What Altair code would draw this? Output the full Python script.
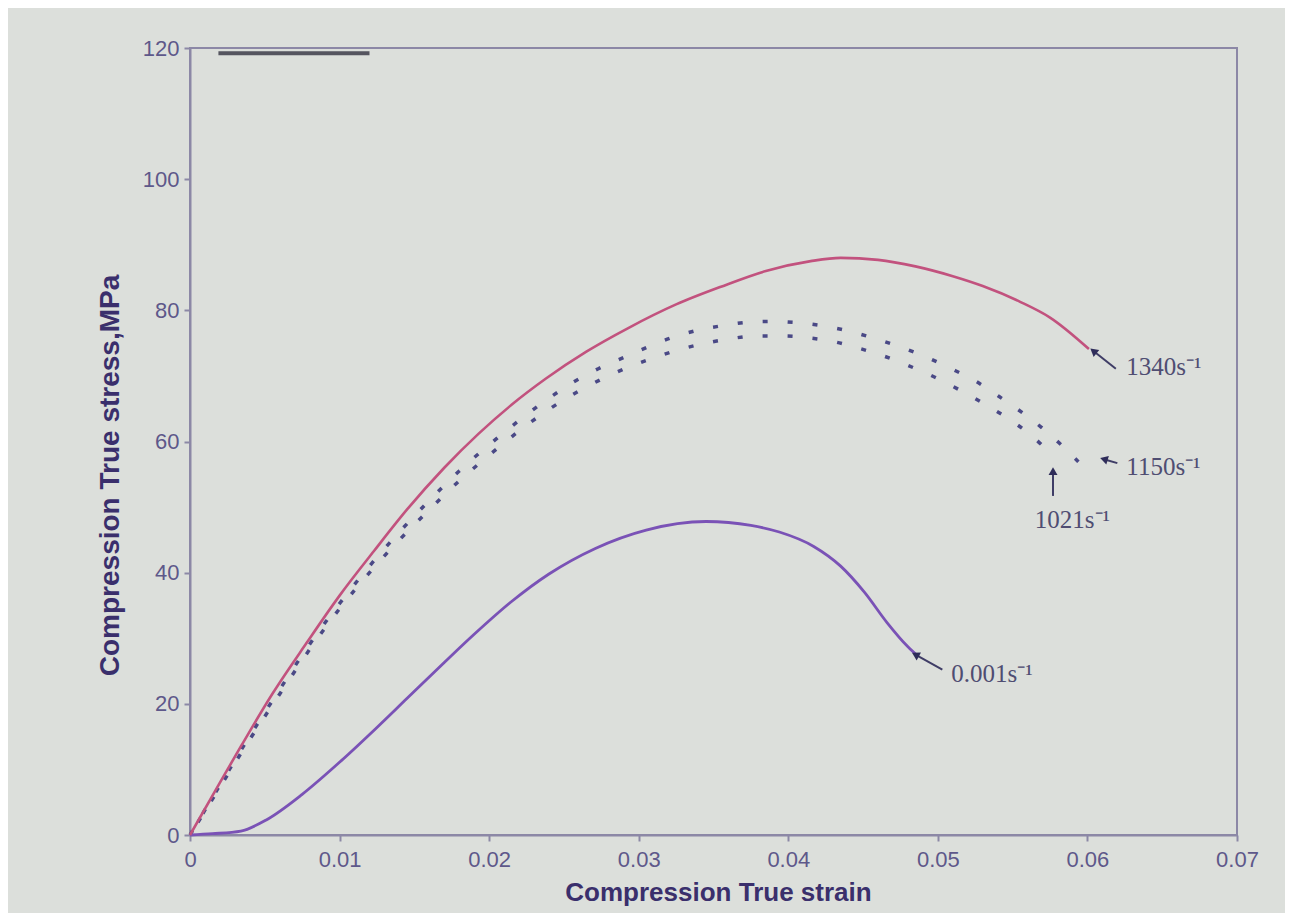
import altair as alt
import pandas as pd

# ---------------- data ----------------
strain_1340 = [0, 0.002, 0.0034, 0.0055, 0.0078, 0.010, 0.0123, 0.0145, 0.017, 0.0193, 0.0215,
               0.0238, 0.0265, 0.0293, 0.0325, 0.0355, 0.0385, 0.0415, 0.0435, 0.046, 0.0485,
               0.051, 0.053, 0.0555, 0.0575, 0.0601]
stress_1340 = [0, 8, 13.5, 21.5, 29.3, 36.5, 43.3, 49.6, 56.0, 61.2, 65.6,
               69.6, 73.7, 77.3, 80.9, 83.6, 86.0, 87.5, 88, 87.7, 86.7,
               85.2, 83.7, 81.3, 78.9, 74.1]

strain_1150 = [0, 0.002, 0.004, 0.006, 0.008, 0.010, 0.012, 0.014, 0.016, 0.018, 0.020, 0.022,
               0.024, 0.0256, 0.0273, 0.0291, 0.0307, 0.0323, 0.034, 0.0357, 0.0374, 0.039,
               0.0407, 0.0424, 0.0441, 0.0458, 0.0475, 0.0492, 0.0509, 0.0526, 0.054, 0.0554,
               0.0569, 0.0581, 0.0594]
stress_1150 = [0, 7.6, 15.1, 22.2, 29.1, 35.3, 41.0, 46.2, 51.0, 55.5, 59.5, 63.2,
               66.6, 69.0, 71.1, 72.9, 74.5, 75.9, 77.0, 77.7, 78.2, 78.3,
               78.1, 77.6, 76.8, 75.7, 74.4, 72.9, 71.1, 69.1, 67.0, 64.8,
               62.2, 59.8, 56.9]

strain_1021 = [0, 0.002, 0.004, 0.006, 0.008, 0.010, 0.012, 0.014, 0.016, 0.018, 0.020, 0.022,
               0.0242, 0.026, 0.0277, 0.0294, 0.0312, 0.0327, 0.0347, 0.0362, 0.0379, 0.0397,
               0.0414, 0.0431, 0.0446, 0.0463, 0.048, 0.0498, 0.0515, 0.0532, 0.0547, 0.0561,
               0.0574]
stress_1021 = [0, 7.3, 14.6, 21.5, 28.3, 34.5, 40.0, 45.0, 49.6, 54.0, 57.9, 61.6,
               65.2, 67.7, 69.7, 71.4, 72.9, 74.0, 75.1, 75.7, 76.1, 76.1,
               75.8, 75.2, 74.3, 73.1, 71.6, 69.8, 67.8, 65.6, 63.5, 61.2,
               58.5]

strain_0001 = [0, 0.0015, 0.0034, 0.0051, 0.0075, 0.0101, 0.0125, 0.0145, 0.017, 0.019, 0.0215,
               0.024, 0.0271, 0.0305, 0.0345, 0.0375, 0.0394, 0.0417, 0.0435, 0.0451, 0.0466,
               0.048, 0.0487]
stress_0001 = [0, 0.2, 0.6, 2.3, 6.2, 11.3, 16.4, 20.8, 26.3, 30.6, 35.6,
               39.8, 43.7, 46.5, 47.8, 47.2, 46.2, 44, 41, 37, 32.4,
               28.7, 27.2]

# annotation labels and arrows (head -> tail, in data units)
ann_labels = ["1340s⁻¹", "1150s⁻¹", "1021s⁻¹", "0.001s⁻¹"]
ann_head_x = [0.0604, 0.0611, 0.0577, 0.0485]
ann_head_y = [73.8, 57.3, 55.5, 27.5]
ann_tail_x = [0.0619, 0.0620, 0.0577, 0.0503]
ann_tail_y = [71.1, 56.7, 51.7, 25.2]
ann_angle = [309, 287, 0, 299]
ann_text_x = [0.0626, 0.0626, 0.0590, 0.0509]
ann_text_y = [71.3, 56.1, 48.0, 24.6]

# short dark line at the top left of the frame
top_line_x = [0.0019, 0.0120]
top_line_y = [119.2, 119.2]

x_ticks = [0, 0.01, 0.02, 0.03, 0.04, 0.05, 0.06, 0.07]
y_ticks = [0, 20, 40, 60, 80, 100, 120]

# ---------------- tables ----------------
def series_df(name, xs, ys):
    return pd.DataFrame({"series": name, "strain": xs, "stress": ys, "order": range(len(xs))})

df_1340 = series_df("1340", strain_1340, stress_1340)
df_1150 = series_df("1150", strain_1150, stress_1150)
df_1021 = series_df("1021", strain_1021, stress_1021)
df_0001 = series_df("0.001", strain_0001, stress_0001)

ann = pd.DataFrame({"label": ann_labels, "strain": ann_head_x, "stress": ann_head_y,
                    "strain2": ann_tail_x, "stress2": ann_tail_y, "ang": ann_angle,
                    "tx": ann_text_x, "ty": ann_text_y})
top_df = pd.DataFrame({"strain": [top_line_x[0]], "strain2": [top_line_x[1]], "stress": [top_line_y[0]]})

# ---------------- styling ----------------
BG = "#dcdfdb"
FRAME = "#8c88a6"
LABEL_C = "#5e588a"
TITLE_C = "#3a2f6c"
ANN_C = "#4f4d72"

xscale = alt.Scale(domain=[0, 0.07], nice=False, zero=False)
yscale = alt.Scale(domain=[0, 120], nice=False)

xaxis = alt.Axis(values=x_ticks, grid=False, title="Compression True strain",
                 labelExpr="datum.value == 0 ? '0' : format(datum.value, '.2f')",
                 labelFont="Liberation Sans", labelFontSize=22, labelColor=LABEL_C,
                 labelPadding=8, labelFlush=False, tickSize=6, tickColor=FRAME, tickWidth=2,
                 domainColor=FRAME, domainWidth=2,
                 titleFont="Liberation Sans", titleFontSize=26, titleFontWeight="bold",
                 titleColor=TITLE_C, titleX=528, titleY=57, titleAlign="center",
                 titleBaseline="middle")
yaxis = alt.Axis(values=y_ticks, grid=False, title="Compression True stress,MPa",
                 labelFont="Liberation Sans", labelFontSize=22, labelColor=LABEL_C,
                 labelPadding=5, labelFlush=False, tickSize=6, tickColor=FRAME, tickWidth=2,
                 domainColor=FRAME, domainWidth=2,
                 titleFont="Liberation Sans", titleFontSize=28, titleFontWeight="bold",
                 titleColor=TITLE_C, titleX=-80, titleY=427, titleAngle=-90,
                 titleAlign="center", titleBaseline="middle")

X = alt.X("strain:Q", scale=xscale, axis=xaxis)
Y = alt.Y("stress:Q", scale=yscale, axis=yaxis)

line_1340 = alt.Chart(df_1340).mark_line(interpolate="monotone", strokeWidth=2.6,
                                         color="#c2527e").encode(x=X, y=Y, order="order:Q")
line_0001 = alt.Chart(df_0001).mark_line(interpolate="monotone", strokeWidth=2.8,
                                         color="#7a52b6").encode(x=X, y=Y, order="order:Q")
line_1150 = alt.Chart(df_1150).mark_line(interpolate="monotone", strokeWidth=3.5,
                                         strokeDash=[5, 20], color="#4a4986").encode(
    x=X, y=Y, order="order:Q")
line_1021 = alt.Chart(df_1021).mark_line(interpolate="monotone", strokeWidth=3.5,
                                         strokeDash=[5, 20], strokeDashOffset=10,
                                         color="#4a4986").encode(x=X, y=Y, order="order:Q")

top_rule = alt.Chart(top_df).mark_rule(strokeWidth=4, color="#55555f").encode(
    x=X, x2="strain2:Q", y=Y)

arrows = alt.Chart(ann).mark_rule(strokeWidth=2, color="#3f3d66").encode(
    x=X, x2="strain2:Q", y=Y, y2="stress2:Q")
heads = alt.Chart(ann).mark_point(shape="triangle-up", filled=True, size=80, opacity=1,
                                  color="#2f2d5a").encode(
    x=X, y=Y, angle=alt.Angle("ang:Q", scale=None))

ann_left = ann[ann["label"] != "1021s⁻¹"]
ann_mid = ann[ann["label"] == "1021s⁻¹"]
texts_left = alt.Chart(ann_left).mark_text(align="left", baseline="middle",
                                           font="Liberation Serif", fontSize=25,
                                           color=ANN_C).encode(
    x=alt.X("tx:Q", scale=xscale, axis=xaxis), y=alt.Y("ty:Q", scale=yscale, axis=yaxis),
    text="label:N")
texts_mid = alt.Chart(ann_mid).mark_text(align="center", baseline="middle",
                                         font="Liberation Serif", fontSize=25,
                                         color=ANN_C).encode(
    x=alt.X("tx:Q", scale=xscale, axis=xaxis), y=alt.Y("ty:Q", scale=yscale, axis=yaxis),
    text="label:N")

chart = alt.layer(top_rule, line_1150, line_1021, line_0001, line_1340,
                  arrows, heads, texts_left, texts_mid).properties(
    width=1047, height=787,
    autosize=alt.AutoSizeParams(type="none"),
    padding={"left": 182, "top": 40, "right": 48, "bottom": 78},
    background=BG,
).configure_view(stroke=FRAME, strokeWidth=2, fill=BG)

chart.save("out.html", embed_options={"renderer": "svg", "actions": False})
